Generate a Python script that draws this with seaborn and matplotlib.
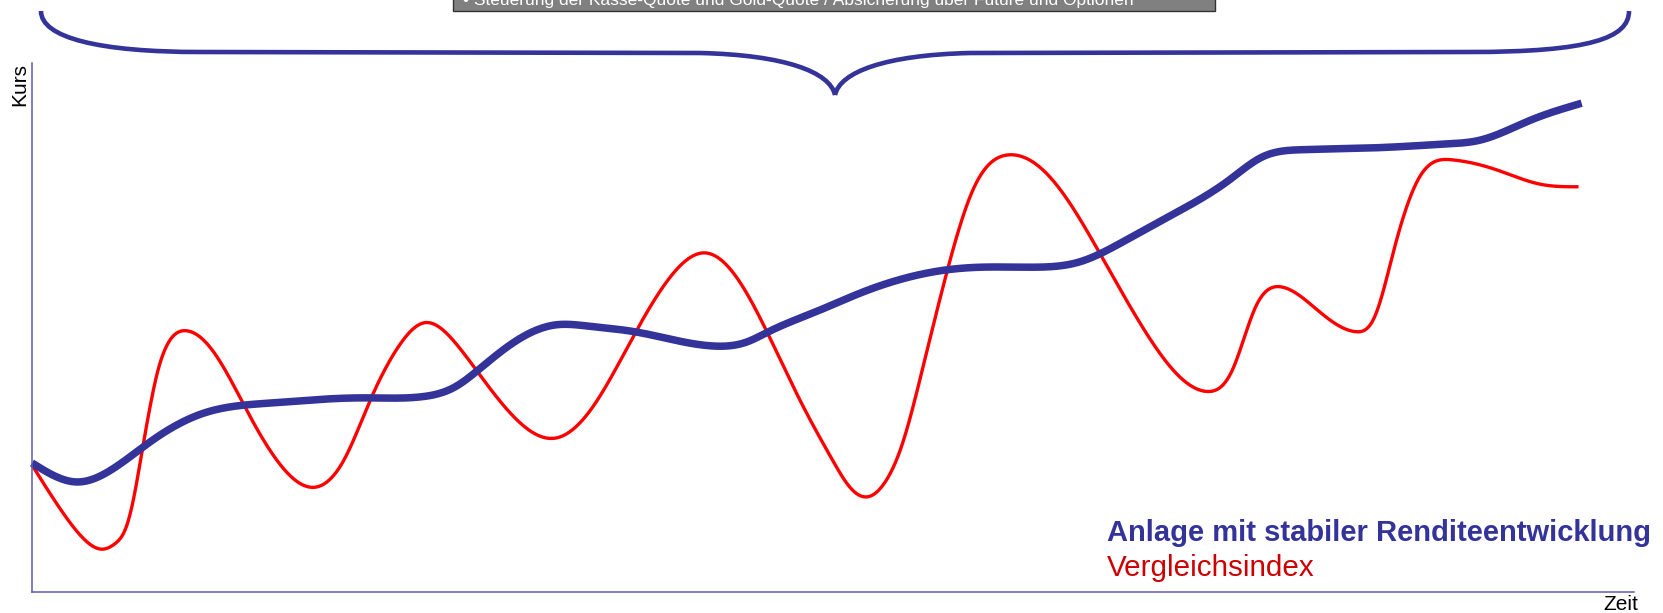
import numpy as np
import pandas as pd
import matplotlib
matplotlib.use("Agg")
import matplotlib.pyplot as plt
from matplotlib.path import Path
from matplotlib.patches import PathPatch, Rectangle
import seaborn as sns

# Vergleichsindex: time and price level
index_time = [0.0, 1.9, 3.2, 4.6, 5.4, 6.1, 6.6, 7.1, 7.6, 8.1, 8.8,
              9.9, 11.8, 14.0, 16.2, 18.3, 20.2, 21.9, 23.7, 25.4, 27.4, 29.1,
              31.4, 33.9, 36.3, 38.9, 41.3, 43.6, 45.6, 47.6, 49.7, 51.8, 53.0,
              54.1, 55.2, 56.3, 57.6, 59.2, 60.9, 63.1, 65.9, 69.1, 72.0, 74.5,
              76.1, 77.7, 79.2, 80.8, 83.2, 85.7, 86.9, 88.2, 89.8, 91.9, 94.8,
              97.6, 100.1]
index_price = [24.0, 15.4, 10.5, 8.1, 9.2, 12.3, 18.0, 26.2, 34.4,
               41.3, 47.0, 49.4, 45.2, 33.8, 23.6, 19.8, 25.0, 36.3, 46.3, 50.9,
               47.1, 40.6, 32.5, 29.1, 35.0, 48.2, 59.5, 64.1, 59.5, 49.0, 36.3,
               25.0, 19.6, 18.0, 20.7, 27.7, 41.7, 60.3, 76.0, 82.6, 78.4, 64.1,
               49.5, 40.1, 37.9, 42.0, 53.9, 57.7, 53.3, 49.2, 52.0, 65.2, 78.4,
               81.7, 79.8, 77.1, 76.6]

# Anlage mit stabiler Renditeentwicklung
fund_time = [0.0, 2.9, 5.4, 7.8, 11.1, 15.3, 21.5, 25.2, 27.4, 29.1, 31.4, 33.9,
             35.9, 39.2, 44.1, 46.3, 47.6, 51.0, 53.6, 59.2, 61.4, 64.9, 67.8,
             70.8, 74.3, 77.5, 79.6, 82.1, 87.2, 91.6, 93.7, 97.0, 100.3]
fund_price = [24.4, 20.8, 23.6, 28.7, 33.8, 35.7, 36.7, 36.9, 38.8, 42.5, 47.6,
              50.5, 50.3, 49.1, 46.5, 47.3, 49.1, 53.3, 56.5, 60.9, 61.4, 61.4,
              62.4, 66.5, 72.1, 77.9, 82.2, 83.6, 84.0, 84.7, 85.4, 89.2, 92.4]

series_labels = ["Anlage mit stabiler Renditeentwicklung", "Vergleichsindex"]
banner_text = "\u2022 Steuerung der Kasse-Quote und Gold-Quote / Absicherung über Future und Optionen"
x_label = "Zeit"
y_label = "Kurs"

FUND_COLOR = "#333399"
INDEX_COLOR = "#ff0000"
INDEX_TEXT = "#cc0000"
AXIS_COLOR = "#5d5db0"


def natural_spline(x, y, xs):
    """Natural cubic spline through the given points, evaluated at xs."""
    x = np.asarray(x, float)
    y = np.asarray(y, float)
    n = len(x)
    h = np.diff(x)
    A = np.zeros((n, n))
    b = np.zeros(n)
    A[0, 0] = A[-1, -1] = 1.0
    for i in range(1, n - 1):
        A[i, i - 1] = h[i - 1]
        A[i, i] = 2 * (h[i - 1] + h[i])
        A[i, i + 1] = h[i]
        b[i] = 6 * ((y[i + 1] - y[i]) / h[i] - (y[i] - y[i - 1]) / h[i - 1])
    M = np.linalg.solve(A, b)
    i = np.clip(np.searchsorted(x, xs) - 1, 0, n - 2)
    hi = h[i]
    a = x[i + 1] - xs
    c = xs - x[i]
    return (M[i] * a**3 / (6 * hi) + M[i + 1] * c**3 / (6 * hi)
            + (y[i] / hi - M[i] * hi / 6) * a
            + (y[i + 1] / hi - M[i + 1] * hi / 6) * c)


def smooth_frame(t, v, label):
    ts = np.linspace(t[0], t[-1], 2500)
    return pd.DataFrame({"Zeit": ts, "Kurs": natural_spline(t, v, ts), "Serie": label})


sns.set_style("white")
plt.rcParams["font.family"] = ["Liberation Sans", "DejaVu Sans"]

W, H = 1663, 613
fig = plt.figure(figsize=(W / 100, H / 100), dpi=100)

# chart area in pixels: left 32, right 1634, top 63, bottom 592
AX_L, AX_R, AX_T, AX_B = 32, 1634, 63, 592
ax = fig.add_axes([AX_L / W, (H - AX_B) / H, (AX_R - AX_L) / W, (AX_B - AX_T) / H])

df_index = smooth_frame(index_time, index_price, series_labels[1])
df_fund = smooth_frame(fund_time, fund_price, series_labels[0])

sns.lineplot(data=df_index, x="Zeit", y="Kurs", color=INDEX_COLOR, lw=2.4,
             ax=ax, legend=False, clip_on=False, solid_capstyle="butt", sort=False)
sns.lineplot(data=df_fund, x="Zeit", y="Kurs", color=FUND_COLOR, lw=5.4,
             ax=ax, legend=False, clip_on=False, solid_capstyle="butt", sort=False)

# one time unit spans 15.45 px, the axis runs a little past the last point
ax.set_xlim(0, (AX_R - AX_L) / 15.45)
ax.set_ylim(0, 100)
ax.set_xticks([])
ax.set_yticks([])
ax.set_xlabel("")
ax.set_ylabel("")
for side in ("top", "right"):
    ax.spines[side].set_visible(False)
for side in ("left", "bottom"):
    ax.spines[side].set_color(AXIS_COLOR)
    ax.spines[side].set_linewidth(1.1)

# overlay in pixel units (y pointing down) for brace, banner and labels
ov = fig.add_axes([0, 0, 1, 1], facecolor="none")
ov.set_xlim(0, W)
ov.set_ylim(H, 0)
ov.axis("off")

# curly brace spanning the whole period
left = Path([(41, 11), (41, 38), (100, 52), (200, 52),
             (700, 53), (785, 55), (830, 72), (835, 95)],
            [Path.MOVETO, Path.CURVE4, Path.CURVE4, Path.CURVE4,
             Path.LINETO, Path.CURVE4, Path.CURVE4, Path.CURVE4])
right = Path([(835, 95), (840, 72), (885, 55), (970, 53),
              (1470, 52), (1590, 52), (1629, 38), (1629, 11)],
             [Path.MOVETO, Path.CURVE4, Path.CURVE4, Path.CURVE4,
              Path.LINETO, Path.CURVE4, Path.CURVE4, Path.CURVE4])
for p in (left, right):
    ov.add_patch(PathPatch(p, fc="none", ec=FUND_COLOR, lw=3.3, capstyle="butt"))

# banner box at the top edge
ov.add_patch(Rectangle((453, -10), 1215 - 453, 21, fc="#808080", ec="#333333", lw=1.0))
ov.text(463, 4.5, banner_text, color="white", fontsize=12.5, ha="left", va="baseline")

ov.text(19.5, 63, y_label, rotation=90, ha="center", va="top", fontsize=15, color="black")
ov.text(1638, 610, x_label, ha="right", va="baseline", fontsize=15, color="black")

ov.text(1107, 541, series_labels[0], ha="left", va="baseline", fontsize=21,
        fontweight="bold", color=FUND_COLOR)
ov.text(1107, 576, series_labels[1], ha="left", va="baseline", fontsize=21.3,
        color=INDEX_TEXT)

fig.savefig("out.png", dpi=100)
